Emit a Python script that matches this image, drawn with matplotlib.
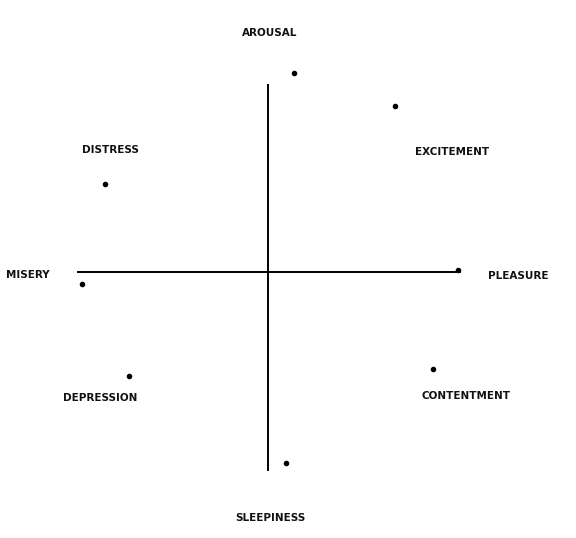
import matplotlib
matplotlib.use("Agg")
import matplotlib.pyplot as plt

# affect terms, positions relative to the centre (pleasure -> right, arousal -> up)
terms = ["AROUSAL", "EXCITEMENT", "PLEASURE", "CONTENTMENT",
         "SLEEPINESS", "DEPRESSION", "MISERY", "DISTRESS"]
pt_x = [26, 127, 190, 165, 18, -139, -186, -163]
pt_y = [199, 166, 2, -97, -191, -104, -12, 88]
lab_x = [2, 184, 250, 198, 2, -168, -240, -158]
lab_y = [239, 120, -4, -124, -246, -126, -3, 122]

fig = plt.figure(figsize=(5.76, 5.38), dpi=100)
ax = fig.add_axes([0, 0, 1, 1])
ax.set_xlim(-268, 308)
ax.set_ylim(-266, 272)
ax.axis("off")

ax.plot([0, 0], [-198, 187], color="black", lw=1.4)
ax.plot([-190, 192], [0, 0], color="black", lw=1.4)

ax.scatter(pt_x, pt_y, s=9, color="black", zorder=3)
for t, x, y in zip(terms, lab_x, lab_y):
    ax.text(x, y, t, ha="center", va="center", fontsize=7.5,
            fontweight="bold", family="DejaVu Sans", color="#111111")

fig.savefig("out.png", dpi=100, facecolor="white")
